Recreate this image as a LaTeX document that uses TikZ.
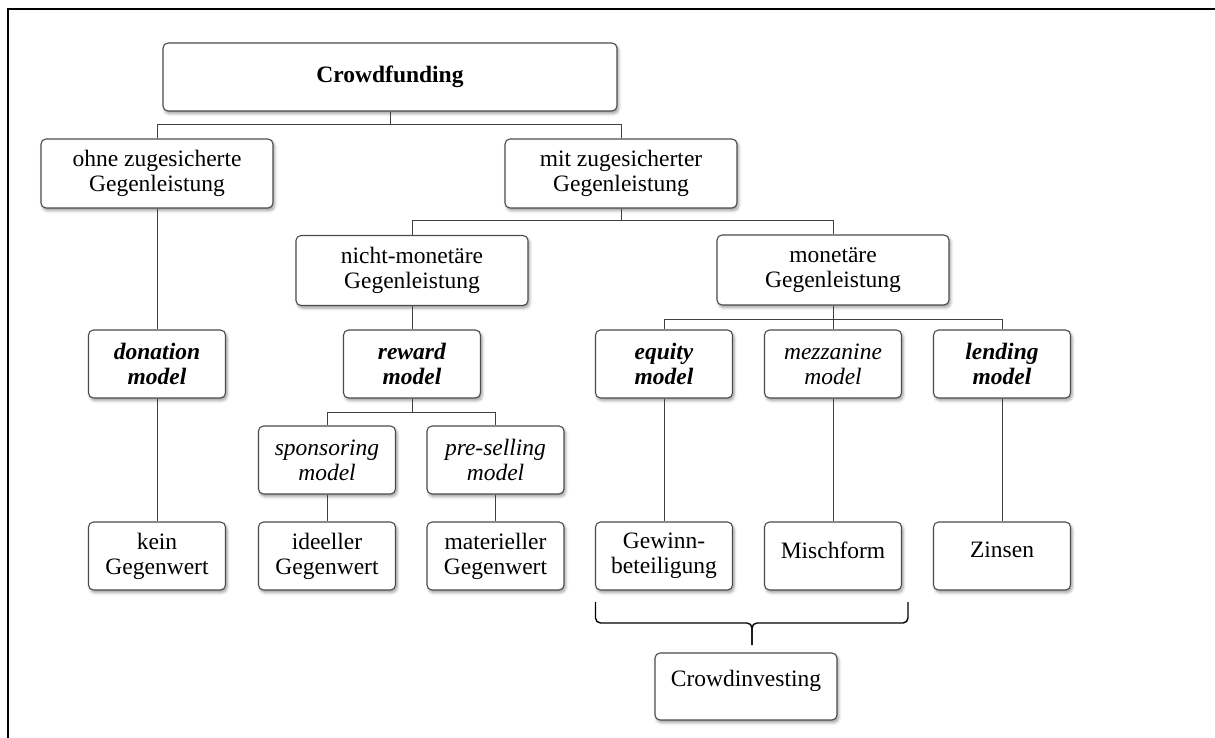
\documentclass[tikz,border=0pt]{standalone}
\usepackage{fontspec}
\setmainfont{Liberation Serif}
\usetikzlibrary{shadows.blur}
\tikzset{
  box/.style={draw=black!70, line width=1.1pt, rounded corners=5pt, fill=white,
    align=center, inner sep=0pt,
    blur shadow={shadow xshift=1.5pt, shadow yshift=-2.5pt, shadow blur radius=3pt, shadow opacity=40},
    font=\fontsize{23.5}{25}\selectfont},
  smallbox/.style={box, minimum width=137pt, minimum height=68pt},
  widebox/.style={box, minimum width=232pt, minimum height=69pt},
  conn/.style={draw=black!75, line width=1pt},
  bracestyle/.style={draw=black, line width=1.4pt, rounded corners=5pt},
  frame/.style={draw=black, line width=2pt}
}
\newcommand{\uptext}[1]{\raisebox{6pt}[\height][\depth]{#1}}
\begin{document}
\begin{tikzpicture}[x=1pt,y=-1pt]
\useasboundingbox (0,0) rectangle (1215,738);
\draw[frame] (1215,9) -- (8,9) -- (8,738);

% level 0
\node[box, minimum width=454pt, minimum height=68pt] (cf) at (390,77) {\textbf{Crowdfunding}};
% level 1
\node[widebox] (ohne) at (157,173.5) {ohne zugesicherte\\Gegenleistung};
\node[widebox] (mit) at (621,173.5) {mit zugesicherter\\Gegenleistung};
% level 2
\node[widebox, minimum height=70pt] (nicht) at (412,270.5) {nicht-monetäre\\Gegenleistung};
\node[widebox, minimum height=70pt] (mon) at (833,270) {monetäre\\Gegenleistung};
% level 3
\node[smallbox] (don) at (157,364) {\textbf{\textit{donation}}\\\textbf{\textit{model}}};
\node[smallbox] (rew) at (412,364) {\textbf{\textit{reward}}\\\textbf{\textit{model}}};
\node[smallbox] (eq) at (664,364) {\textbf{\textit{equity}}\\\textbf{\textit{model}}};
\node[smallbox] (mez) at (833,364) {\textit{mezzanine}\\\textit{model}};
\node[smallbox] (lend) at (1002,364) {\textbf{\textit{lending}}\\\textbf{\textit{model}}};
% level 4
\node[smallbox] (spon) at (327,460) {\textit{sponsoring}\\\textit{model}};
\node[smallbox] (pre) at (495.5,460) {\textit{pre-selling}\\\textit{model}};
% level 5
\node[smallbox] (kein) at (157,556) {kein\\Gegenwert};
\node[smallbox] (ide) at (327,556) {ideeller\\Gegenwert};
\node[smallbox] (mat) at (495.5,556) {materieller\\Gegenwert};
\node[smallbox] (gew) at (664,556) {Gewinn-\\beteiligung};
\node[smallbox] (misch) at (833,556) {\uptext{Mischform}};
\node[smallbox] (zins) at (1002,556) {\uptext{Zinsen}};
% crowdinvesting
\node[box, minimum width=182pt, minimum height=67pt] (ci) at (746,686.5) {\uptext{Crowdinvesting}};

% connectors
\draw[conn] (cf.south) -- ++(0,13) -| (ohne.north);
\draw[conn] (cf.south) -- ++(0,13) -| (mit.north);
\draw[conn] (mit.south) -- ++(0,12) -| (nicht.north);
\draw[conn] (mit.south) -- ++(0,12) -| (mon.north);
\draw[conn] (ohne.south) -- (don.north);
\draw[conn] (don.south) -- (kein.north);
\draw[conn] (nicht.south) -- (rew.north);
\draw[conn] (rew.south) -- ++(0,14) -| (spon.north);
\draw[conn] (rew.south) -- ++(0,14) -| (pre.north);
\draw[conn] (spon.south) -- (ide.north);
\draw[conn] (pre.south) -- (mat.north);
\draw[conn] (mon.south) -- ++(0,14) -| (eq.north);
\draw[conn] (mon.south) -- ++(0,14) -| (mez.north);
\draw[conn] (mon.south) -- ++(0,14) -| (lend.north);
\draw[conn] (eq.south) -- (gew.north);
\draw[conn] (mez.south) -- (misch.north);
\draw[conn] (lend.south) -- (zins.north);

% brace
\coordinate (bL) at (595.5,602);
\coordinate (bR) at (908,602);
\coordinate (bM) at (752,623);
\coordinate (bT) at (752,645);
\draw[bracestyle] (bL) -- (bL |- bM) -- (bM) -- (bT);
\draw[bracestyle] (bR) -- (bR |- bM) -- (bM) -- (bT);
\end{tikzpicture}
\end{document}
